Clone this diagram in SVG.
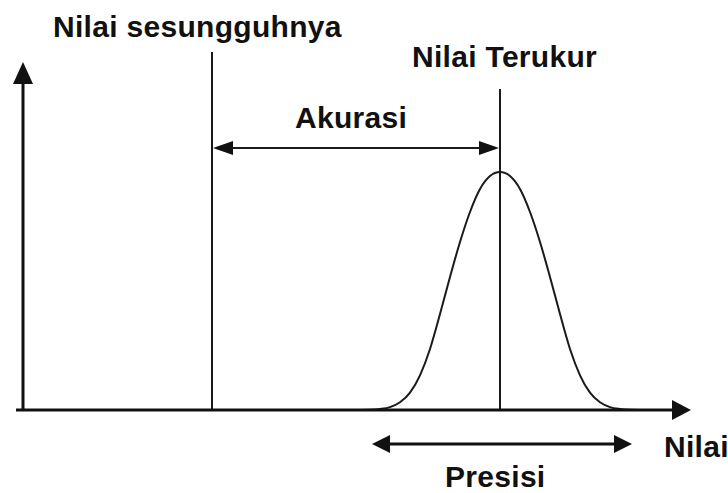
<svg xmlns="http://www.w3.org/2000/svg" width="728" height="493" viewBox="0 0 728 493">
  <style>
    .lbl { font-family: "Liberation Sans", Arial, sans-serif; font-weight: bold; font-size: 30px; letter-spacing: 0.3px; fill: #111; }
    .thin { stroke: #1a1a1a; stroke-width: 2; fill: none; }
    .thick { stroke: #111; stroke-width: 3; fill: none; }
    .head { fill: #111; }
  </style>
  <rect width="728" height="493" fill="#fff"/>

  <g id="curve">
    <path class="thin" d="M360,410 C363.3,409.97 366.7,409.97 370,409.8 C373.3,409.63 376.7,409.45 380,409 C383.3,408.55 386.7,408.22 390,407.1 C393.3,405.98 396.7,404.72 400,402.3 C403.3,399.88 406.7,397.1 410,392.6 C413.3,388.1 416.7,382.57 420,375.3 C423.3,368.03 426.7,359.22 430,349 C433.3,338.78 436.7,326 440,314 C443.3,302 446.7,289 450,277 C453.3,265 456.7,252.83 460,242 C463.3,231.17 466.7,220.83 470,212 C473.3,203.17 476.7,195 480,189 C483.3,183 486.7,178.83 490,176 C493.3,173.17 496.7,172 500,172 C503.3,172 506.7,173.17 510,176 C513.3,178.83 516.7,183 520,189 C523.3,195 526.7,203.17 530,212 C533.3,220.83 536.7,231.17 540,242 C543.3,252.83 546.7,265 550,277 C553.3,289 556.7,302 560,314 C563.3,326 566.7,338.78 570,349 C573.3,359.22 576.7,368.03 580,375.3 C583.3,382.57 586.7,388.1 590,392.6 C593.3,397.1 596.7,399.88 600,402.3 C603.3,404.72 606.7,405.98 610,407.1 C613.3,408.22 616.7,408.55 620,409 C623.3,409.45 626.7,409.63 630,409.8 C633.3,409.97 636.7,409.97 640,410"/>
  </g>

  <g id="true-value-line">
    <line class="thin" x1="212" y1="52" x2="212" y2="410"/>
  </g>
  <g id="measured-value-line">
    <line class="thin" x1="500" y1="89" x2="500" y2="410"/>
  </g>

  <g id="axes">
    <line class="thick" x1="23" y1="411" x2="23" y2="78"/>
    <polygon class="head" points="23,62 13,84 33,84"/>
    <line class="thick" x1="16" y1="410" x2="676" y2="410"/>
    <polygon class="head" points="691,410 672,400 672,420"/>
  </g>

  <g id="connectors">
    <g id="akurasi-arrow">
      <line class="thin" x1="228" y1="148" x2="484" y2="148"/>
      <polygon class="head" points="213,148 233,141 233,155"/>
      <polygon class="head" points="499,148 479,141 479,155"/>
    </g>
    <g id="presisi-arrow">
      <line class="thick" x1="386" y1="444" x2="618" y2="444"/>
      <polygon class="head" points="372,444 390,435 390,453"/>
      <polygon class="head" points="632,444 614,435 614,453"/>
    </g>
  </g>

  <g id="labels">
    <text class="lbl" x="53" y="37">Nilai sesungguhnya</text>
    <text class="lbl" x="412" y="67">Nilai Terukur</text>
    <text class="lbl" x="295" y="128">Akurasi</text>
    <text class="lbl" x="664" y="457">Nilai</text>
    <text class="lbl" x="445" y="487">Presisi</text>
  </g>
</svg>
